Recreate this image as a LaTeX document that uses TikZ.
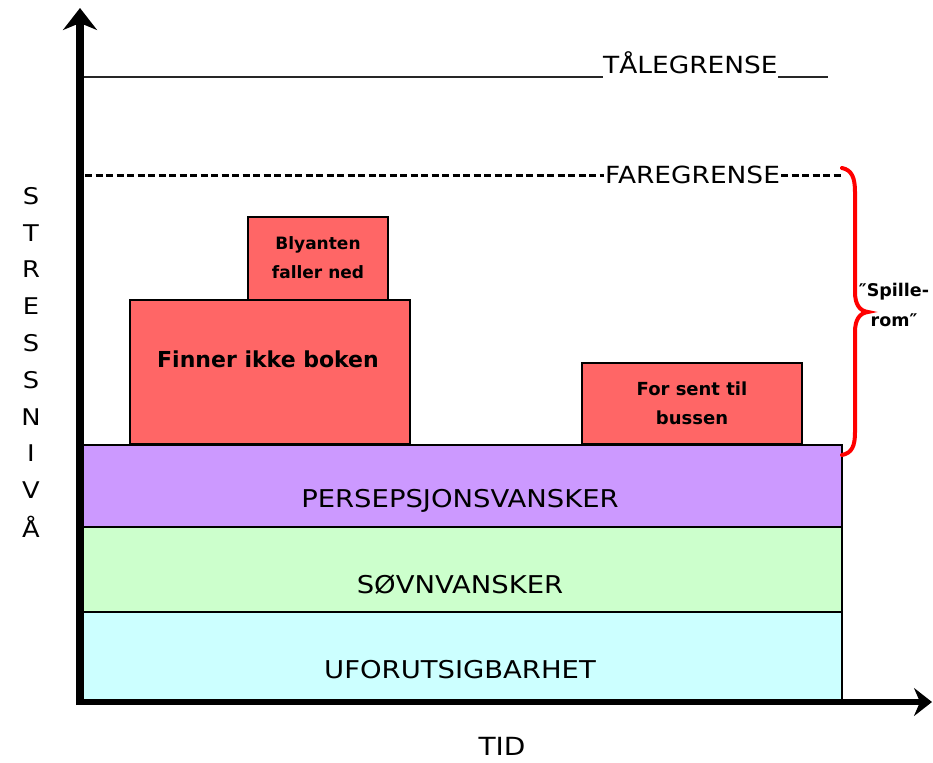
\documentclass[tikz,border=0pt]{standalone}
\usepackage{fontspec}
\setmainfont{DejaVu Sans}[FakeStretch=1.12]
\newfontfamily\narrowfont{DejaVu Sans}
\usetikzlibrary{arrows.meta}
\definecolor{boxred}{HTML}{FF6666}
\definecolor{bandpurple}{HTML}{CC99FF}
\definecolor{bandgreen}{HTML}{CCFFCC}
\definecolor{bandcyan}{HTML}{CCFFFF}
\definecolor{bracered}{HTML}{FF0000}
\tikzset{
  band/.style={draw=black, line width=1.8pt},
  evbox/.style={draw=black, line width=1.8pt, fill=boxred},
  bandlbl/.style={font=\fontsize{24.5}{28}\selectfont, inner sep=0pt},
  boxlbl/.style={font=\narrowfont\bfseries\fontsize{18}{29}\selectfont, align=center, inner sep=0pt},
  limlbl/.style={font=\fontsize{23.6}{28}\selectfont, inner sep=0pt},
  axletter/.style={font=\fontsize{23}{26}\selectfont, inner sep=0pt},
}
\begin{document}
\begin{tikzpicture}[x=1pt,y=-1pt]
\useasboundingbox (0,0) rectangle (933,762);
% bands
\filldraw[band, fill=bandcyan] (80,612) rectangle (842,700);
\filldraw[band, fill=bandgreen] (80,527) rectangle (842,612);
\filldraw[band, fill=bandpurple] (80,445) rectangle (842,527);
\node[bandlbl] (b1) at (460,670) {UFORUTSIGBARHET};
\node[bandlbl] (b2) at (460,585) {SØVNVANSKER};
\node[bandlbl] (b3) at (460,501) {PERSEPSJONSVANSKER};
% event boxes
\filldraw[evbox] (130,300) rectangle (410,444);
\filldraw[evbox] (248,217) rectangle (388,300);
\filldraw[evbox] (582,363) rectangle (802,444);
\node[boxlbl, font=\narrowfont\bfseries\fontsize{22}{26}\selectfont] (e1) at (268,359) {Finner ikke boken};
\node[boxlbl, font=\narrowfont\bfseries\fontsize{17}{29}\selectfont] (e2) at (318,258) {Blyanten\\faller ned};
\node[boxlbl] (e3) at (692,403) {For sent til\\bussen};
% limits
\node[limlbl, anchor=base west] (tl) at (603,74) {TÅLEGRENSE};
\node[limlbl, anchor=west] (fg) at (605,175) {FAREGRENSE};
\coordinate (tl0) at (83,77);
\coordinate (tl1) at (828,77);
\draw[line width=1.8pt, draw=black!85] (tl0) -- (tl0 -| tl.west);
\draw[line width=1.8pt, draw=black!85] (tl.east |- tl1) -- (tl1);
\coordinate (fg0) at (85,175);
\coordinate (fg1) at (842,175);
\draw[line width=3pt, dash pattern=on 7pt off 3.5pt] (fg0) -- ([xshift=-1pt]fg.west |- fg0);
\draw[line width=3pt, dash pattern=on 7pt off 3.5pt] ([xshift=1pt]fg.east |- fg1) -- (fg1);
% brace
\draw[bracered, line width=4pt, line cap=round]
  (842,168) .. controls (852,170) and (855,178) .. (855,192)
  -- (855,292) .. controls (855,305) and (860,311) .. (868,312)
  .. controls (860,313) and (855,319) .. (855,332)
  -- (855,432) .. controls (855,446) and (852,453) .. (842,455);
\node[font=\narrowfont\bfseries\fontsize{17.5}{30}\selectfont, align=center, inner sep=0pt] (sr) at (894,305) {″Spille-\\rom″};
% axes
\coordinate (o) at (80,702);
\coordinate (ytop) at (80,8);
\coordinate (xend) at (932,702);
\draw[line width=7.5pt, -{Stealth[length=22pt, width=34pt, inset=7pt]}] (80,705) -- (ytop);
\draw[line width=6pt, -{Stealth[length=18pt, width=28pt, inset=6pt]}] (77,702) -- (xend);
% axis labels
\node[axletter, font=\fontsize{25}{28}\selectfont] (tid) at (502,746) {TID};
\foreach \l [count=\i from 0] in {S,T,R,E,S,S,N,I,V,Å} {
  \node[axletter] (y\i) at (31,{196+36.8*\i}) {\l};
}
\end{tikzpicture}
\end{document}
